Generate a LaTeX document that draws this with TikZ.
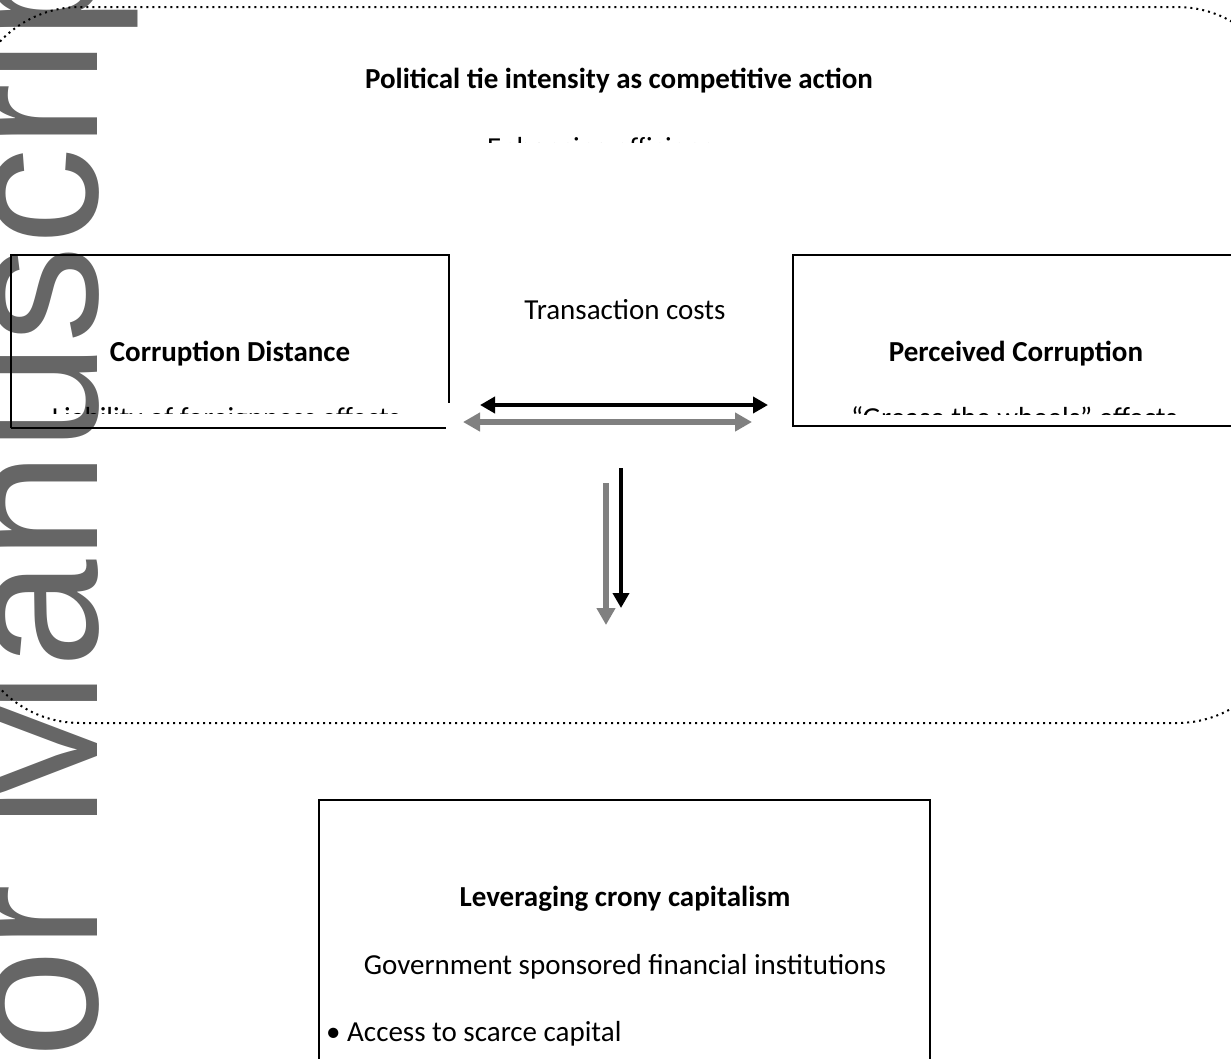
\documentclass[tikz,border=0pt]{standalone}
\usepackage{fontspec}
\setmainfont{Carlito}
\newfontfamily\wmfont{Liberation Sans}
\usepackage{tikz}
\usetikzlibrary{arrows.meta}

\begin{document}
\begin{tikzpicture}[x=1pt, y=-1pt,
        txt/.style={inner sep=0pt, anchor=base, font=\fontsize{29}{35}\selectfont},
        headtxt/.style={txt, font=\fontsize{29}{35}\selectfont\bfseries},
        boxline/.style={line width=1.4pt, black},
        blackarrow/.style={line width=4pt, black, {Triangle[length=15pt,width=16pt]}-{Triangle[length=15pt,width=16pt]}},
        grayarrow/.style={line width=5.5pt, black!50, {Triangle[length=17pt,width=18pt]}-{Triangle[length=17pt,width=18pt]}},
        blackdown/.style={line width=4pt, black, -{Triangle[length=15pt,width=16pt]}},
        graydown/.style={line width=6.5pt, black!50, -{Triangle[length=17pt,width=18pt]}}]
        \useasboundingbox (0,0) rectangle (1231,1058);
        \clip (0,0) rectangle (1231,1058);
        % watermark
        \node[inner sep=0pt, anchor=base west, rotate=90, text=black!60,
              font=\wmfont\fontsize{195}{200}\selectfont] (wm) at (97,831) {\llap{Author }Manuscript};
        % dotted frame
        \draw[line width=2pt, dash pattern=on 2pt off 4pt, rounded corners=110pt] (-30,7) rectangle (1287,723);
        \node[headtxt] (title) at (619,88) {Political tie intensity as competitive action};
        \begin{scope}
          \clip (0,0) rectangle (1231,142);
          \node[txt] (effic) at (607,157) {Enhancing efficiency};
        \end{scope}
        % left box
        \draw[boxline] (11,428) -- (11,255) -- (449,255) -- (449,403);
        \draw[boxline] (11,428) -- (446,428);
        \node[headtxt] (cdist) at (230,361) {Corruption Distance};
        \begin{scope}
          \clip (0,0) rectangle (1231,413);
          \node[txt] (liab) at (226,427) {Liability of foreignness effects};
        \end{scope}
        % right box
        \draw[boxline] (1240,255) -- (793,255) -- (793,426) -- (1240,426);
        \node[headtxt] (pcorr) at (1016,361) {Perceived Corruption};
        \begin{scope}
          \clip (0,0) rectangle (1231,414);
          \node[txt] (grease) at (1014,427) {“Grease the wheels” effects};
        \end{scope}
        \node[txt] (trans) at (625,319) {Transaction costs};
        \coordinate (hbL) at (480,405);
        \coordinate (hbR) at (768,405);
        \coordinate (hgL) at (463,422);
        \coordinate (hgR) at (752,422);
        \coordinate (vbT) at (621,468);
        \coordinate (vbB) at (621,608);
        \coordinate (vgT) at (606,483);
        \coordinate (vgB) at (606,625);
        \draw[blackarrow] (hbL) -- (hbR);
        \draw[grayarrow] (hgL) -- (hgR);
        \draw[blackdown] (vbT) -- (vbB);
        \draw[graydown] (vgT) -- (vgB);
        % bottom box
        \draw[boxline] (319,1070) -- (319,800) -- (930,800) -- (930,1070);
        \node[headtxt] (crony) at (625,906) {Leveraging crony capitalism};
        \node[txt] (gov) at (625,974) {Government sponsored financial institutions};
        \node[txt, anchor=base west] (access) at (326,1041) {• Access to scarce capital};
    \end{tikzpicture}
\end{document}
